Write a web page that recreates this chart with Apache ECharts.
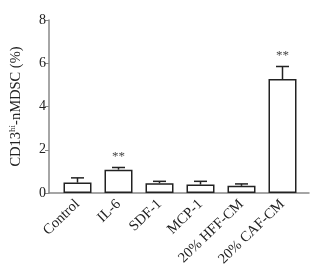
<!DOCTYPE html>
<html>
<head>
<meta charset="utf-8">
<script src="https://cdn.jsdelivr.net/npm/echarts@6/dist/echarts.min.js"></script>
<style>
html,body{margin:0;padding:0;background:#fff;}
#container{width:325px;height:272px;}
</style>
</head>
<body>
<div id="container"></div>
<script>
var categories = ['Control', 'IL-6', 'SDF-1', 'MCP-1', '20% HFF-CM', '20% CAF-CM'];
var meanValues = [0.48, 1.08, 0.45, 0.39, 0.33, 5.27];
var errValues = [0.22, 0.1, 0.09, 0.15, 0.09, 0.58];
var starLabels = ['', '**', '', '', '', '**'];
var yTicks = [0, 2, 4, 6, 8];

var fontFam = '"Liberation Serif", "DejaVu Serif", serif';

var myChart = echarts.init(document.getElementById('container'));

var errData = meanValues.map(function(v, i){ return [i, v, v + errValues[i]]; });

var option = {
    animation: false,
    grid: [
        {left: 49, right: 16, top: 20, bottom: 79},   // frame for the long x axis line
        {left: 57, right: 22, top: 20, bottom: 79}    // bars
    ],
    xAxis: [
        {
            gridIndex: 0, type: 'value', min: 0, max: 1,
            axisLine: {show: true, lineStyle: {color: '#888', width: 1.5}},
            axisTick: {show: false}, axisLabel: {show: false}, splitLine: {show: false}
        },
        {
            gridIndex: 1, type: 'category', data: categories,
            axisLine: {show: false}, axisTick: {show: false},
            axisLabel: {
                rotate: 44, interval: 0, margin: 9,
                color: '#222', fontSize: 14.5, fontFamily: fontFam
            }
        }
    ],
    yAxis: [
        {
            gridIndex: 0, type: 'value', min: 0, max: 8, show: false
        },
        {
            gridIndex: 1, type: 'value', min: 0, max: 8, interval: 2, offset: 8,
            axisLine: {show: true, lineStyle: {color: '#888', width: 1.5}},
            axisTick: {show: true, inside: false, length: 4, lineStyle: {color: '#888'}},
            axisLabel: {color: '#222', fontSize: 14, fontFamily: fontFam, margin: 3,
                formatter: function(v){ return yTicks.indexOf(v) >= 0 ? v : ''; }},
            splitLine: {show: false},
            name: '{a|CD13}{b|hi}{a|-nMDSC (%)}',
            nameLocation: 'middle', nameRotate: 90, nameGap: 25,
            nameTextStyle: {
                rich: {
                    a: {fontSize: 14.5, fontFamily: fontFam, color: '#222'},
                    b: {fontSize: 9, fontFamily: fontFam, color: '#222', verticalAlign: 'top', padding: [0, 0, 7, 0]}
                }
            }
        }
    ],
    series: [
        {
            type: 'bar', xAxisIndex: 1, yAxisIndex: 1,
            data: meanValues, barWidth: 28,
            itemStyle: {color: '#fff', borderColor: '#222', borderWidth: 1.5}
        },
        {
            type: 'custom', xAxisIndex: 1, yAxisIndex: 1, z: 3,
            data: errData,
            renderItem: function(params, api){
                var base = api.coord([api.value(0), api.value(1)]);
                var top = api.coord([api.value(0), api.value(2)]);
                var half = 6.5;
                var st = {stroke: '#222', lineWidth: 1.5};
                var kids = [
                    {type: 'line', shape: {x1: base[0], y1: base[1], x2: top[0], y2: top[1]}, style: st},
                    {type: 'line', shape: {x1: top[0] - half, y1: top[1], x2: top[0] + half, y2: top[1]}, style: st}
                ];
                var lab = starLabels[params.dataIndex];
                if (lab) {
                    kids.push({type: 'text', x: top[0], y: top[1] - 4,
                        style: {text: lab, fill: '#444', font: '13px ' + fontFam, align: 'center', verticalAlign: 'bottom'}});
                }
                return {type: 'group', children: kids};
            }
        }
    ]
};
myChart.setOption(option);
</script>
</body>
</html>
